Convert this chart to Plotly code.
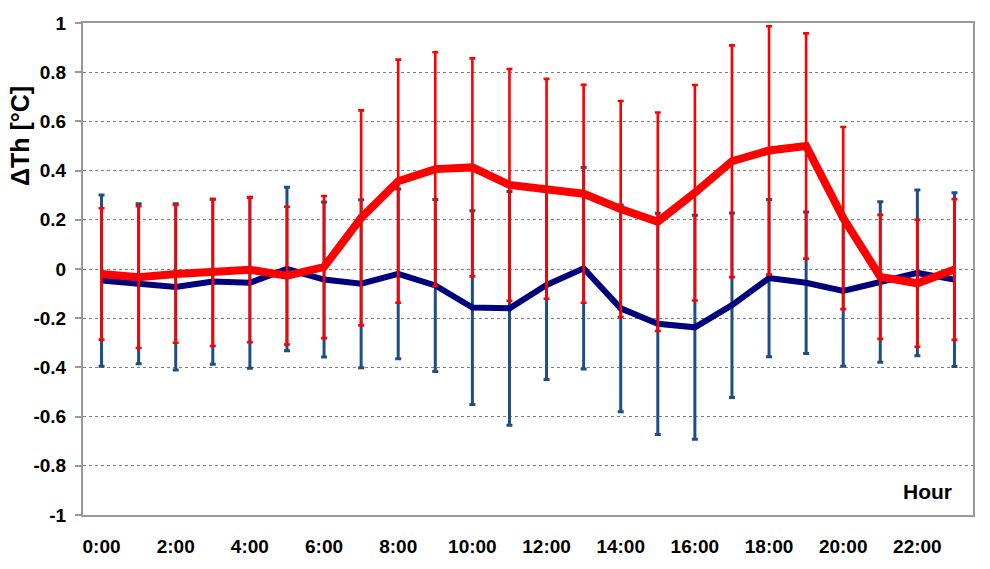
import plotly.graph_objects as go

hours = [f"{h}:00" for h in range(24)]
hour_ticks = hours[::2]

blue_mean = [-0.047, -0.060, -0.073, -0.051, -0.056, 0.000, -0.043, -0.060, -0.020, -0.067,
             -0.157, -0.160, -0.065, 0.003, -0.160, -0.223, -0.237, -0.147, -0.037, -0.056,
             -0.089, -0.053, -0.016, -0.043]
blue_sd = [0.348, 0.325, 0.338, 0.336, 0.347, 0.332, 0.315, 0.341, 0.345, 0.350,
           0.394, 0.475, 0.384, 0.410, 0.420, 0.450, 0.455, 0.375, 0.320, 0.288,
           0.306, 0.326, 0.337, 0.353]

red_mean = [-0.020, -0.033, -0.020, -0.015, -0.003, -0.027, 0.008, 0.208, 0.357, 0.406,
            0.413, 0.342, 0.326, 0.306, 0.244, 0.192, 0.310, 0.438, 0.482, 0.500,
            0.207, -0.032, -0.058, -0.002]
red_sd = [0.267, 0.288, 0.280, 0.298, 0.295, 0.280, 0.289, 0.437, 0.494, 0.475,
          0.443, 0.471, 0.447, 0.443, 0.439, 0.444, 0.438, 0.471, 0.505, 0.458,
          0.370, 0.252, 0.258, 0.286]

y_tick_vals = [-1, -0.8, -0.6, -0.4, -0.2, 0, 0.2, 0.4, 0.6, 0.8, 1]
y_tick_text = ["-1", "-0.8", "-0.6", "-0.4", "-0.2", "0", "0.2", "0.4", "0.6", "0.8", "1"]

FONT = "Liberation Sans, Arial, sans-serif"
FRAME = "#999999"

fig = go.Figure()
fig.add_trace(go.Scatter(
    x=hours, y=blue_mean, mode="lines",
    line=dict(color="#00007F", width=6),
    error_y=dict(type="data", array=blue_sd, visible=True,
                 color="#1F4E84", thickness=3, width=3),
    showlegend=False,
))
fig.add_trace(go.Scatter(
    x=hours, y=red_mean, mode="lines",
    line=dict(color="#FF0000", width=8),
    error_y=dict(type="data", array=red_sd, visible=True,
                 color="#FF0000", thickness=2.6, width=3),
    showlegend=False,
))

fig.update_layout(
    width=990, height=569,
    margin=dict(l=83, r=17, t=23, b=45),
    paper_bgcolor="white", plot_bgcolor="white",
    font=dict(family=FONT, size=19, color="black"),
    xaxis=dict(
        type="category", categoryorder="array", categoryarray=hours,
        range=[-0.5, 23.5],
        tickmode="array", tickvals=hour_ticks, ticktext=hour_ticks,
        ticks="", showgrid=False, zeroline=False,
        showline=True, linecolor=FRAME, linewidth=2, mirror=True,
        tickfont=dict(family=FONT, size=19, color="black", weight="bold"),
        ticklabelstandoff=13,
    ),
    xaxis2=dict(
        overlaying="x", anchor="free", position=0.5, side="bottom",
        range=[-0.5, 23.5], tickmode="linear", tick0=-0.5, dtick=1,
        ticks="outside", ticklen=6, tickcolor=FRAME, tickwidth=1.5,
        showticklabels=False, showgrid=False, zeroline=False,
        showline=True, linecolor=FRAME, linewidth=2,
    ),
    yaxis=dict(
        range=[-1, 1], tickmode="array", tickvals=y_tick_vals, ticktext=y_tick_text,
        ticks="outside", ticklen=6, tickcolor=FRAME, tickwidth=1.5,
        showgrid=True, gridcolor="#7F7F7F", griddash="dot", gridwidth=1,
        zeroline=False,
        showline=True, linecolor=FRAME, linewidth=2, mirror=True,
        tickfont=dict(family=FONT, size=19, color="black", weight="bold"),
        ticklabelstandoff=5,
    ),
    annotations=[
        dict(
            text="<b>ΔTh [°C]</b>", xref="paper", yref="paper",
            x=-0.071, y=0.77, xanchor="center", yanchor="middle",
            textangle=-90, showarrow=False,
            font=dict(family=FONT, size=25, color="black"),
        ),
        dict(
            text="<b>Hour</b>", xref="paper", yref="paper", x=0.979, y=0.047,
            xanchor="right", yanchor="middle", showarrow=False,
            font=dict(family=FONT, size=21, color="black"),
        ),
    ],
)

fig.write_html("out.html")
